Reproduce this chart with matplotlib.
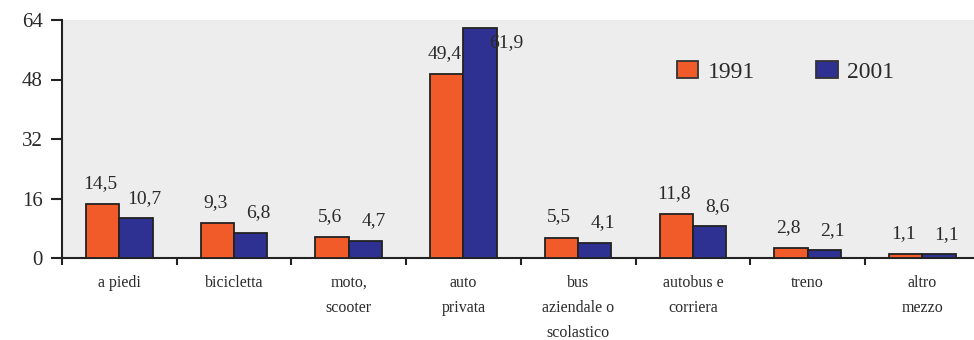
import numpy as np
import matplotlib.pyplot as plt
from matplotlib.patches import Patch

# Mezzo di trasporto usato (%), confronto censimenti 1991 e 2001
categorie = ["a piedi", "bicicletta", "moto,\nscooter", "auto\nprivata",
             "bus\naziendale o\nscolastico", "autobus e\ncorriera", "treno", "altro\nmezzo"]
val_1991 = [14.5, 9.3, 5.6, 49.4, 5.5, 11.8, 2.8, 1.1]
val_2001 = [10.7, 6.8, 4.7, 61.9, 4.1, 8.6, 2.1, 1.1]
anni = ["1991", "2001"]
yticks = [0, 16, 32, 48, 64]

col_1991 = "#F15A29"
col_2001 = "#2E3192"
testo = "#2a2a2a"
plt.rcParams['font.family'] = ['Liberation Serif', 'DejaVu Serif']

fig = plt.figure(figsize=(9.74, 3.40), dpi=100)
ax = fig.add_axes([62 / 974, 82 / 340, 917.6 / 974, 238 / 340])
ax.set_facecolor("#ededed")

x = np.arange(len(categorie))
w = 0.29
ax.bar(x - w / 2, val_1991, w, color=col_1991, edgecolor="#222222", linewidth=1.3, zorder=3)
ax.bar(x + w / 2, val_2001, w, color=col_2001, edgecolor="#222222", linewidth=1.3, zorder=3)

def fmt(v):
    return f"{v:.1f}".replace(".", ",")

for i in range(len(categorie)):
    ax.text(x[i] - w / 2 - 0.02, val_1991[i] + 5.5, fmt(val_1991[i]), ha="center", va="center",
            fontsize=14, color=testo, zorder=4)
    y2 = val_2001[i] + 5.3
    dx = 0.07
    if y2 > 62:
        y2 = val_2001[i] - 4.1
        dx = 0.23
    ax.text(x[i] + w / 2 + dx, y2, fmt(val_2001[i]), ha="center", va="center",
            fontsize=14, color=testo, zorder=4)

ax.set_xlim(-0.5, len(categorie) - 0.5)
ax.set_ylim(0, 64)
ax.set_yticks(yticks)
ax.set_yticklabels([str(t) for t in yticks], fontsize=15, color=testo)

# ticks on category boundaries, labels centred below each group
ax.set_xticks(np.arange(len(categorie) + 1) - 0.5)
ax.set_xticklabels([])
ax.set_xticks(x, minor=True)
ax.set_xticklabels(categorie, minor=True, fontsize=11.5, color=testo, linespacing=1.75, va="top")
ax.tick_params(axis="x", which="major", length=5, width=1.5, direction="out", color="#222222")
ax.tick_params(axis="x", which="minor", length=0, pad=12)
ax.tick_params(axis="y", length=8, width=1.5, direction="out", color="#222222", pad=6)

for s in ["top", "right"]:
    ax.spines[s].set_visible(False)
for s in ["left", "bottom"]:
    ax.spines[s].set_linewidth(1.5)
    ax.spines[s].set_color("#222222")

handles = [Patch(facecolor=col_1991, edgecolor="#333333", linewidth=1.3),
           Patch(facecolor=col_2001, edgecolor="#333333", linewidth=1.3)]
ax.legend(handles, anni, loc="center left", bbox_to_anchor=((677 - 62) / 917.6, (258 - 72) / 238),
          ncol=2, frameon=False, fontsize=17, handlelength=0.9, handleheight=0.76,
          handletextpad=0.4, columnspacing=2.6, borderpad=0, borderaxespad=0,
          labelcolor=testo)

fig.savefig("out.png", dpi=100)
